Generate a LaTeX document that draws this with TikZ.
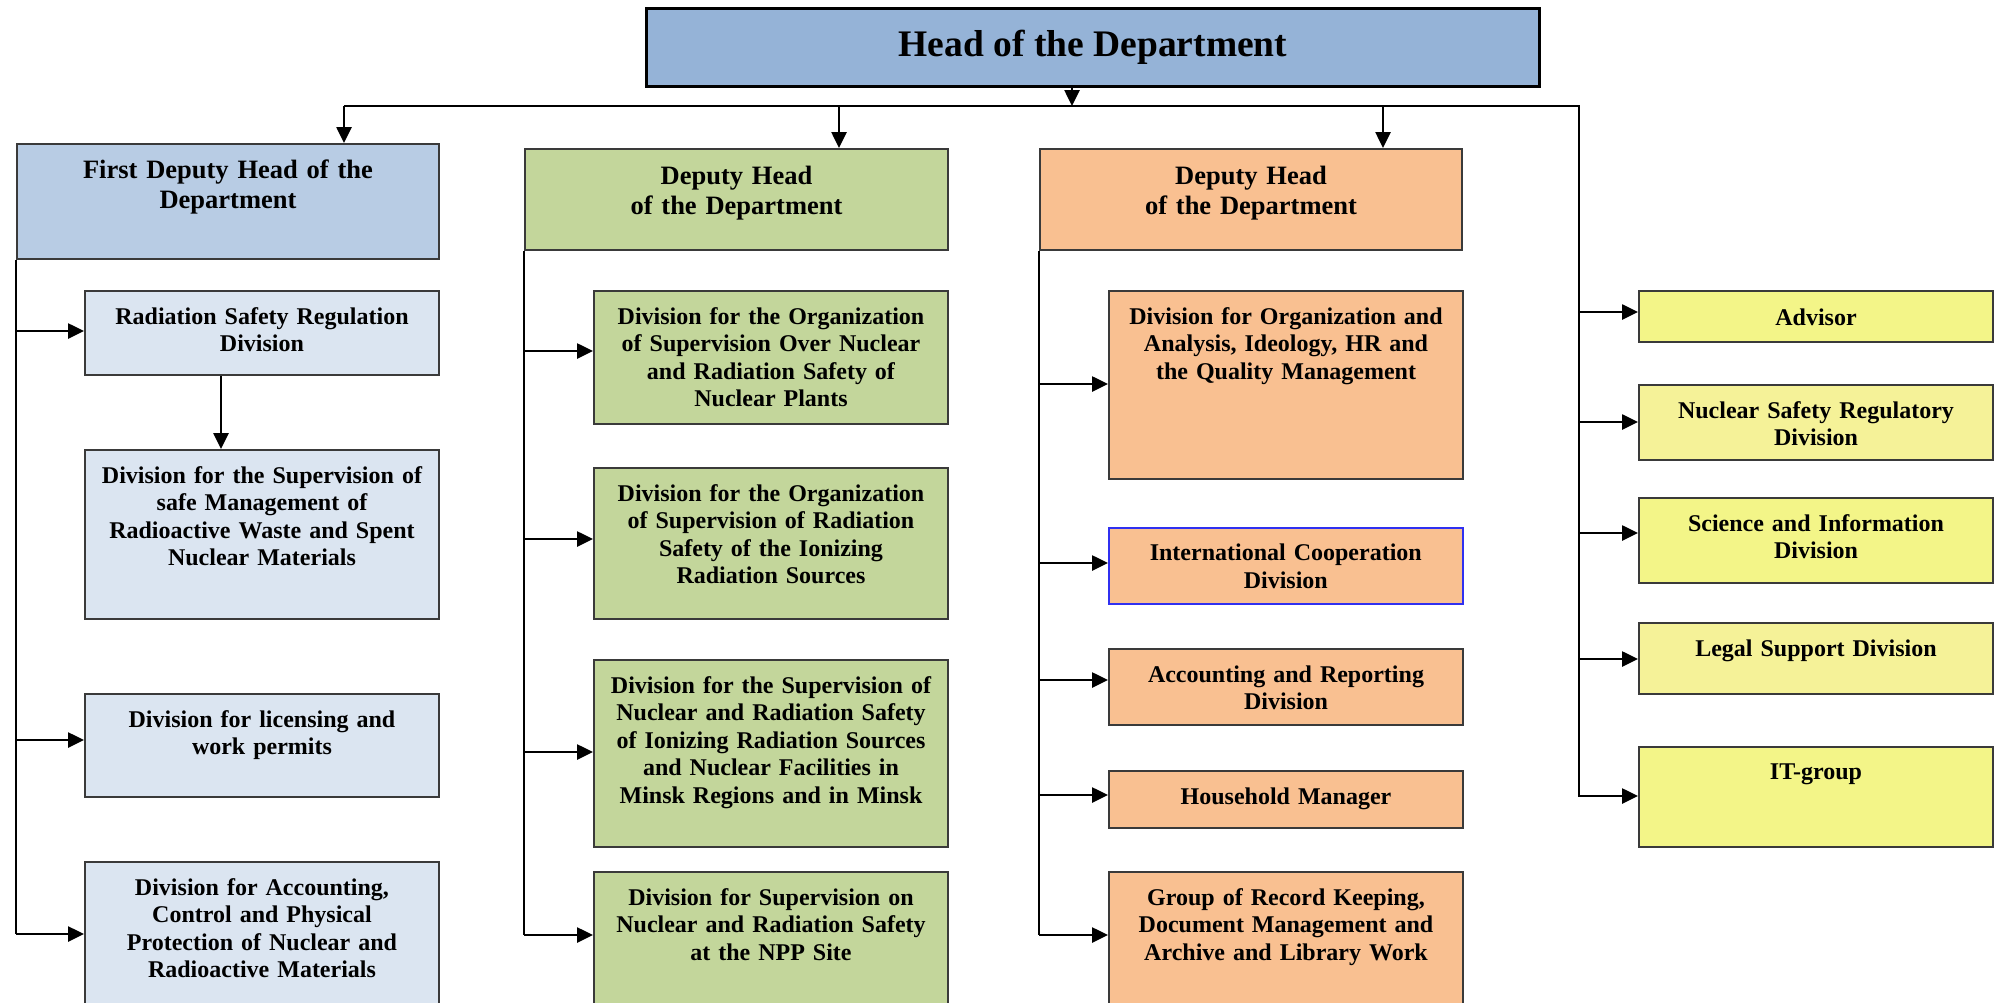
\documentclass[tikz,border=0pt]{standalone}
\usepackage{fontspec}
\setmainfont{Liberation Serif}
\usetikzlibrary{arrows.meta}

\definecolor{headblue}{HTML}{95B3D7}
\definecolor{firstblue}{HTML}{B8CCE4}
\definecolor{paleblue}{HTML}{DBE5F1}
\definecolor{olive}{HTML}{C3D69B}
\definecolor{peach}{HTML}{F9C091}
\definecolor{lemon}{HTML}{F3F588}
\definecolor{palelemon}{HTML}{F5F298}
\definecolor{boxline}{HTML}{3A3A3A}
\definecolor{coopline}{HTML}{3030F0}

\newcommand{\headfont}{\fontsize{18.75pt}{22pt}\selectfont\bfseries}
\newcommand{\depfont}{\fontsize{13.25pt}{15.35pt}\selectfont\bfseries}
\newcommand{\divfont}{\fontsize{12pt}{13.8pt}\selectfont\bfseries}

% width, height, first baseline (all in pixels of the picture)
\tikzset{
    bsize/.code n args={3}{%
        \pgfmathsetlengthmacro\bxw{#1*0.5pt}%
        \pgfmathsetlengthmacro\bxh{#2*0.5pt}%
        \pgfmathsetlengthmacro\bxt{#3*0.5pt}%
        \pgfmathsetlengthmacro\bxd{(#2-#3)*0.5pt}%
        \edef\bxset{\noexpand\pgfkeysalso{minimum width=\bxw, minimum height=\bxh,
            text width=\bxw, text height=\bxt, text depth=\bxd}}%
        \bxset}
}

\begin{document}
\begin{tikzpicture}[x=0.5pt,y=-0.5pt,
        box/.style={draw=boxline, line width=1pt, inner sep=0pt, anchor=north west,
            align=center, font=\divfont},
        line/.style={line width=1.3pt},
        arr/.style={line width=1.3pt, -{Triangle[length=8pt,width=7.5pt]}}]
    \useasboundingbox (0,0) rectangle (1998,1002);
    \clip (0,0) rectangle (1998,1002);

    % Head
    \node[box, draw=black, line width=1.5pt, fill=headblue, font=\headfont,
        minimum width=446.5pt, minimum height=39pt] (head) at (645,7) {Head of the Department};

    % Deputies
    \node[box, fill=firstblue, font=\depfont, bsize={422}{115}{34}] (fd) at (16,143)
        {First Deputy Head of the\\Department};
    \node[box, fill=olive, font=\depfont, bsize={423}{101}{35}] (sd) at (524,148)
        {Deputy Head\\of the Department};
    \node[box, fill=peach, font=\depfont, bsize={422}{101}{35}] (td) at (1039,148)
        {Deputy Head\\of the Department};

    % first column
    \node[box, fill=paleblue, bsize={354}{84}{33}] (rad) at (84,290)
        {Radiation Safety Regulation\\Division};
    \node[box, fill=paleblue, bsize={354}{169}{33}] (waste) at (84,449)
        {Division for the Supervision of\\safe Management of\\Radioactive Waste and Spent\\Nuclear Materials};
    \node[box, fill=paleblue, bsize={354}{103}{33}] (lic) at (84,693)
        {Division for licensing and\\work permits};
    \node[box, fill=paleblue, bsize={354}{160}{33}] (acc) at (84,861)
        {Division for Accounting,\\Control and Physical\\Protection of Nuclear and\\Radioactive Materials};

    % second column
    \node[box, fill=olive, bsize={354}{133}{33}] (npp) at (593,290)
        {Division for the Organization\\of Supervision Over Nuclear\\and Radiation Safety of\\Nuclear Plants};
    \node[box, fill=olive, bsize={354}{151}{33}] (irs) at (593,467)
        {Division for the Organization\\of Supervision of Radiation\\Safety of the Ionizing\\Radiation Sources};
    \node[box, fill=olive, bsize={354}{187}{33}] (minsk) at (593,659)
        {Division for the Supervision of\\Nuclear and Radiation Safety\\of Ionizing Radiation Sources\\and Nuclear Facilities in\\Minsk Regions and in Minsk};
    \node[box, fill=olive, bsize={354}{150}{33}] (site) at (593,871)
        {Division for Supervision on\\Nuclear and Radiation Safety\\at the NPP Site};

    % third column
    \node[box, fill=peach, bsize={354}{188}{33}] (org) at (1108,290)
        {Division for Organization and\\Analysis, Ideology, HR and\\the Quality Management};
    \node[box, fill=peach, draw=coopline, line width=0.8pt, bsize={354}{76}{33}] (coop) at (1108,527)
        {International Cooperation\\Division};
    \node[box, fill=peach, bsize={354}{76}{33}] (rep) at (1108,648)
        {Accounting and Reporting\\Division};
    \node[box, fill=peach, bsize={354}{57}{33}] (house) at (1108,770)
        {Household Manager};
    \node[box, fill=peach, bsize={354}{150}{33}] (rec) at (1108,871)
        {Group of Record Keeping,\\Document Management and\\Archive and Library Work};

    % right column
    \node[box, fill=lemon, bsize={354}{51}{34}] (adv) at (1638,290) {Advisor};
    \node[box, fill=palelemon, bsize={354}{75}{33}] (nsr) at (1638,384)
        {Nuclear Safety Regulatory\\Division};
    \node[box, fill=lemon, bsize={354}{85}{33}] (sci) at (1638,497)
        {Science and Information\\Division};
    \node[box, fill=palelemon, bsize={354}{71}{33}] (legal) at (1638,622)
        {Legal Support Division};
    \node[box, fill=lemon, bsize={354}{100}{32}] (it) at (1638,746) {IT-group};

    % bus under the head
    \coordinate (busL) at (344,106);
    \coordinate (busC) at (839,106);
    \coordinate (busM) at (1072,106);
    \coordinate (busD) at (1383,106);
    \coordinate (busR) at (1579,106);
    \draw[arr] (head.south -| busM) -- (busM);
    \draw[line] (busL) -- (busR) -- (busR |- it.west);
    \draw[arr] (busL) -- (busL |- fd.north);
    \draw[arr] (busC) -- (busC |- sd.north);
    \draw[arr] (busD) -- (busD |- td.north);

    % first deputy
    \draw[line] (fd.south west) -- (fd.south west |- 0,934);
    \foreach \n/\y in {rad/331, lic/740, acc/934}
        \draw[arr] (fd.west |- 0,\y) -- (\n.west |- 0,\y);
    \draw[arr] (rad.south -| 221,0) -- (waste.north -| 221,0);

    % second deputy
    \draw[line] (sd.south west) -- (sd.south west |- 0,935);
    \foreach \n/\y in {npp/351, irs/539, minsk/752, site/935}
        \draw[arr] (sd.west |- 0,\y) -- (\n.west |- 0,\y);

    % third deputy
    \draw[line] (td.south west) -- (td.south west |- 0,935);
    \foreach \n/\y in {org/384, coop/563, rep/680, house/795, rec/935}
        \draw[arr] (td.west |- 0,\y) -- (\n.west |- 0,\y);

    % right column
    \foreach \n/\y in {adv/312, nsr/422, sci/533, legal/659, it/796}
        \draw[arr] (busR |- 0,\y) -- (\n.west |- 0,\y);
\end{tikzpicture}
\end{document}
